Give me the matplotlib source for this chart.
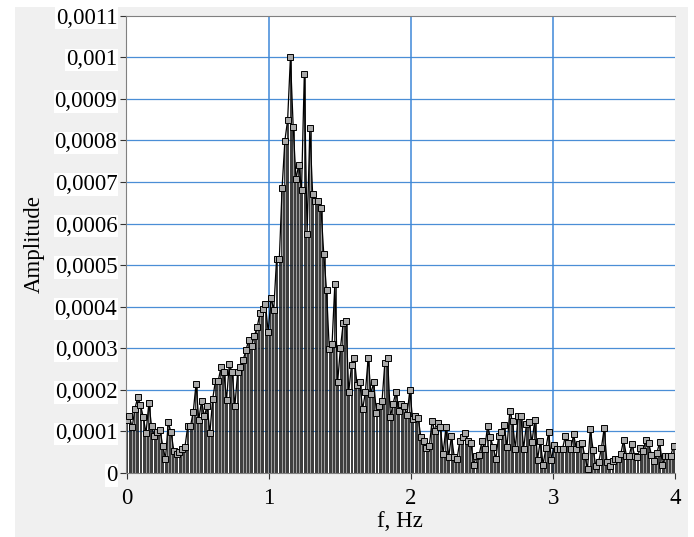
import numpy as np
import matplotlib.pyplot as plt
from matplotlib.patches import Rectangle
from matplotlib.ticker import FuncFormatter, MultipleLocator

# spectrum amplitudes, units of 1e-4, one value per frequency bin
df = 10 / 512
amp = [
    1.28, 1.36, 1.10, 1.55, 1.82, 1.64, 1.34, 0.96, 1.68, 1.12,
    0.88, 0.98, 1.04, 0.66, 0.34, 1.22, 0.98, 0.54, 0.46, 0.50,
    0.58, 0.62, 1.12, 1.12, 1.47, 2.14, 1.28, 1.74, 1.36, 1.62,
    0.96, 1.78, 2.22, 2.22, 2.54, 2.42, 1.76, 2.63, 2.42, 1.62,
    2.42, 2.55, 2.72, 2.96, 3.20, 3.05, 3.30, 3.50, 3.84, 3.95,
    4.07, 3.38, 4.20, 3.93, 5.14, 5.14, 6.86, 7.99, 8.50, 10.0,
    8.32, 7.07, 7.42, 6.80, 9.59, 5.76, 8.30, 6.70, 6.55, 6.55,
    6.37, 5.27, 4.40, 2.98, 3.11, 4.55, 2.18, 3.00, 3.60, 3.66,
    1.95, 2.60, 2.77, 2.12, 2.18, 1.53, 1.95, 2.77, 1.91, 2.18,
    1.44, 1.60, 1.74, 2.64, 2.76, 1.35, 1.67, 1.96, 1.49, 1.66,
    1.60, 1.40, 1.99, 1.30, 1.36, 1.32, 0.86, 0.76, 0.61, 0.64,
    1.24, 1.02, 1.21, 1.10, 0.46, 1.10, 0.38, 0.90, 0.38, 0.34,
    0.76, 0.86, 0.96, 0.78, 0.72, 0.20, 0.42, 0.44, 0.78, 0.58,
    1.14, 0.86, 0.62, 0.34, 0.90, 0.98, 1.16, 0.62, 1.49, 1.24,
    0.58, 1.36, 1.36, 0.58, 1.18, 1.22, 0.74, 1.28, 0.32, 0.78,
    0.20, 0.60, 0.98, 0.32, 0.68, 0.57, 0.58, 0.58, 0.89, 0.73,
    0.57, 0.93, 0.57, 0.70, 0.72, 0.42, 0.10, 1.06, 0.56, 0.17,
    0.26, 0.60, 1.08, 0.26, 0.17, 0.30, 0.34, 0.34, 0.46, 0.80,
    0.42, 0.42, 0.69, 0.41, 0.38, 0.61, 0.52, 0.80, 0.73, 0.44,
    0.30, 0.49, 0.74, 0.20, 0.41, 0.41, 0.42, 0.66,
]
amp = np.array(amp) * 1e-4
freq = np.arange(len(amp)) * df

x_min, x_max = -0.007, 3.857
x_ticks = [0, 1, 2, 3, x_max]

plt.rcParams['font.family'] = ['Liberation Serif', 'DejaVu Serif']

fig = plt.figure(figsize=(6.94, 5.37), dpi=100, facecolor='white')
fig.patches.append(Rectangle((0.0216, 0), 0.9697, 0.987, transform=fig.transFigure,
                             facecolor='#f0f0f0', edgecolor='none', zorder=-10))

ax = fig.add_axes([0.181, 0.1192, 0.7915, 0.8516])
ax.set_facecolor('white')

ax.bar(freq, amp, width=df * 0.55, color='#a0a0a0', edgecolor='black', linewidth=0.5, zorder=2)
ax.plot(freq, amp, color='black', lw=0.9, zorder=3)
ax.plot(freq, amp, ls='none', marker='s', ms=3.8, mfc='#a8a8a8', mec='black', mew=0.7, zorder=4)

ax.set_xlim(x_min, x_max)
ax.set_ylim(0, 0.0011)
ax.set_xticks(x_ticks)
ax.xaxis.set_major_formatter(FuncFormatter(lambda v, p: f"{v:.0f}"))
ax.yaxis.set_major_locator(MultipleLocator(0.0001))


def yfmt(v, p):
    s = f"{v:.4f}".rstrip('0').rstrip('.')
    return s.replace('.', ',')


ax.yaxis.set_major_formatter(FuncFormatter(yfmt))

for y in np.arange(1, 11) * 1e-4:
    ax.axhline(y, color='#4a8ed6', lw=0.9, zorder=1)
for x in [1, 2, 3]:
    ax.axvline(x, color='#3f88d8', lw=1.1, zorder=1)

ax.tick_params(axis='y', length=4, width=0.8, color='#333333', pad=2, labelsize=16.5)
ax.tick_params(axis='x', length=4, width=0.8, color='#333333', pad=7, labelsize=16.5)
for lab in ax.get_yticklabels():
    lab.set_bbox(dict(facecolor='white', edgecolor='none', pad=0.5))

for s in ['left', 'top', 'bottom']:
    ax.spines[s].set_color('#808080')
    ax.spines[s].set_linewidth(0.8)
ax.spines['right'].set_visible(False)

ax.set_xlabel('f, Hz', fontsize=16.5, labelpad=1)
ax.set_ylabel('Amplitude', fontsize=16.5, labelpad=7)

fig.savefig('out.png', dpi=100, facecolor=fig.get_facecolor())
